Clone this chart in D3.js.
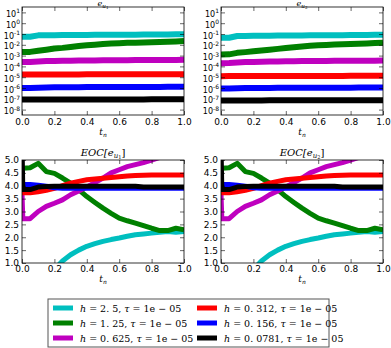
<!DOCTYPE html>
<html>
<head>
<meta charset="utf-8">
<script src="https://cdn.jsdelivr.net/npm/d3@7"></script>
<style>
  body { margin: 0; background: #fff; }
  svg { display: block; }
  .tick text { font-family: "DejaVu Sans", sans-serif; font-size: 9px; fill: #000; }
  .math { font-family: "DejaVu Serif", serif; fill: #000; }
</style>
</head>
<body>
<svg id="chart" width="391" height="348"></svg>
<script>
'use strict';

// time points of the error plots
var tErr = [0, 0.05, 0.1, 0.15, 0.2, 0.25, 0.3, 0.35, 0.4, 0.45, 0.5,
            0.55, 0.6, 0.65, 0.7, 0.75, 0.8, 0.85, 0.9, 0.95, 1.0];
// time points of the EOC plots
var tEoc = [0, 0.005, 0.05, 0.1, 0.15, 0.2, 0.25, 0.3, 0.35, 0.4, 0.45, 0.5,
            0.55, 0.6, 0.65, 0.7, 0.75, 0.8, 0.85, 0.9, 0.95, 1.0];

var hVals = ['2.5', '1.25', '0.625', '0.312', '0.156', '0.0781'];
var colors = ['#00bfbf', '#008000', '#bf00bf', '#ff0000', '#0000ff', '#000000'];

// e_u1
var eu1 = [
  [0.056,0.056,0.075,0.077,0.078,0.079,0.08,0.081,0.082,0.083,0.084,0.085,0.086,0.087,0.087,0.088,0.089,0.09,0.092,0.094,0.097],
  [0.0021,0.0022,0.0028,0.0035,0.0045,0.0052,0.0063,0.0076,0.0089,0.0102,0.0117,0.0129,0.0141,0.0151,0.0158,0.0166,0.0174,0.0182,0.019,0.0204,0.0224],
  [2.5e-4,2.6e-4,2.9e-4,3.1e-4,3.2e-4,3.3e-4,3.4e-4,3.5e-4,3.6e-4,3.6e-4,3.7e-4,3.7e-4,3.8e-4,3.8e-4,3.9e-4,3.9e-4,3.9e-4,4.0e-4,4.0e-4,4.0e-4,4.1e-4],
  [1.75e-5,1.76e-5,1.78e-5,1.8e-5,1.8e-5,1.81e-5,1.82e-5,1.82e-5,1.83e-5,1.83e-5,1.84e-5,1.84e-5,1.85e-5,1.85e-5,1.86e-5,1.86e-5,1.87e-5,1.87e-5,1.88e-5,1.88e-5,1.9e-5],
  [1.0e-6,1.02e-6,1.08e-6,1.12e-6,1.15e-6,1.17e-6,1.19e-6,1.2e-6,1.21e-6,1.22e-6,1.23e-6,1.24e-6,1.25e-6,1.25e-6,1.26e-6,1.26e-6,1.27e-6,1.27e-6,1.28e-6,1.28e-6,1.3e-6],
  [8.5e-8,8.5e-8,8.6e-8,8.6e-8,8.6e-8,8.7e-8,8.7e-8,8.7e-8,8.7e-8,8.7e-8,8.8e-8,8.8e-8,8.8e-8,8.8e-8,8.8e-8,8.8e-8,8.9e-8,8.9e-8,8.9e-8,8.9e-8,9.0e-8]
];

// e_u2
var eu2 = [
  [0.045,0.045,0.065,0.067,0.068,0.069,0.07,0.071,0.072,0.073,0.074,0.075,0.076,0.076,0.077,0.078,0.079,0.08,0.081,0.083,0.085],
  [0.00126,0.0013,0.0018,0.0021,0.0025,0.003,0.0035,0.0042,0.005,0.006,0.007,0.008,0.0089,0.0098,0.0107,0.0113,0.012,0.0127,0.0135,0.0145,0.0158],
  [2.0e-4,2.1e-4,2.3e-4,2.5e-4,2.6e-4,2.7e-4,2.8e-4,2.9e-4,3.0e-4,3.0e-4,3.1e-4,3.1e-4,3.2e-4,3.2e-4,3.3e-4,3.3e-4,3.3e-4,3.4e-4,3.4e-4,3.4e-4,3.5e-4],
  [1.25e-5,1.26e-5,1.27e-5,1.28e-5,1.28e-5,1.29e-5,1.29e-5,1.3e-5,1.3e-5,1.3e-5,1.31e-5,1.31e-5,1.31e-5,1.32e-5,1.32e-5,1.32e-5,1.33e-5,1.33e-5,1.33e-5,1.34e-5,1.35e-5],
  [0.88e-6,0.9e-6,0.95e-6,0.98e-6,1.0e-6,1.01e-6,1.02e-6,1.03e-6,1.04e-6,1.05e-6,1.05e-6,1.06e-6,1.06e-6,1.07e-6,1.07e-6,1.08e-6,1.08e-6,1.09e-6,1.09e-6,1.1e-6,1.1e-6],
  [7.0e-8,7.0e-8,7.1e-8,7.1e-8,7.1e-8,7.1e-8,7.2e-8,7.2e-8,7.2e-8,7.2e-8,7.2e-8,7.2e-8,7.3e-8,7.3e-8,7.3e-8,7.3e-8,7.3e-8,7.3e-8,7.4e-8,7.4e-8,7.4e-8]
];

// EOC (same look for u1 and u2)
var eoc = [
  [-1,-1,-0.3,0.1,0.45,0.75,1.08,1.32,1.5,1.65,1.75,1.84,1.91,1.97,2.04,2.1,2.13,2.16,2.19,2.22,2.19,2.22],
  [4.68,4.68,4.7,4.87,4.55,4.48,4.3,4.1,3.85,3.58,3.35,3.13,2.93,2.74,2.64,2.55,2.45,2.35,2.26,2.26,2.35,2.29],
  [3.7,2.72,2.72,3.0,3.2,3.32,3.45,3.65,3.8,3.95,4.12,4.3,4.5,4.62,4.74,4.82,4.9,5.0,5.1,5.2,5.3,5.4],
  [3.73,3.73,3.73,3.77,3.82,3.9,4.0,4.1,4.17,4.23,4.26,4.29,4.32,4.35,4.38,4.4,4.41,4.42,4.42,4.42,4.42,4.42],
  [4.05,4.05,4.05,4.02,3.98,3.92,3.9,3.9,3.9,3.9,3.9,3.9,3.9,3.9,3.9,3.9,3.9,3.9,3.9,3.9,3.9,3.9],
  [5.6,3.85,3.85,3.95,3.97,3.98,3.98,3.98,3.98,3.98,3.98,3.98,3.98,3.98,3.98,3.98,3.95,3.95,3.95,3.95,3.95,3.95]
];

var xTicks = [0, 0.2, 0.4, 0.6, 0.8, 1.0];
var logTicks = [1e-8, 1e-7, 1e-6, 1e-5, 1e-4, 1e-3, 1e-2, 1e-1, 1e0, 1e1];
var eocTicks = [1.0, 1.5, 2.0, 2.5, 3.0, 3.5, 4.0, 4.5, 5.0];

var svg = d3.select('#chart');

// math title like e_{u_1} or EOC[e_{u_1}]
function mathLabel(g, x, y, size, pre, sub, post) {
  var t = g.append('text').attr('class', 'math').attr('x', x).attr('y', y)
    .attr('text-anchor', 'middle').style('font-size', size + 'px').style('font-style', 'italic');
  if (pre) t.append('tspan').text(pre);
  t.append('tspan').text('e');
  t.append('tspan').attr('dy', 2).style('font-size', (size * 0.7) + 'px').text('u');
  t.append('tspan').attr('dy', 1.2).style('font-size', (size * 0.5) + 'px').style('font-style', 'normal').text(sub);
  if (post) t.append('tspan').attr('dy', -3.2).style('font-style', 'normal').text(post);
}

function tnLabel(g, x, y) {
  var t = g.append('text').attr('class', 'math').attr('x', x).attr('y', y)
    .attr('text-anchor', 'middle').style('font-size', '9px').style('font-style', 'italic');
  t.append('tspan').text('t');
  t.append('tspan').attr('dy', 2).style('font-size', '6px').text('n');
}

function panel(opts) {
  var g = svg.append('g').attr('transform', 'translate(' + opts.left + ',' + opts.top + ')');
  var w = opts.w, h = opts.h;
  var x = d3.scaleLinear().domain([0, 1]).range([0, w]);
  var y = opts.log
    ? d3.scaleLog().domain([Math.pow(10, -8.5), Math.pow(10, 1.5)]).range([h, 0])
    : d3.scaleLinear().domain([1, 5]).range([h, 0]);

  var clipId = 'clip' + opts.id;
  g.append('clipPath').attr('id', clipId).append('rect').attr('width', w).attr('height', h);

  var line = d3.line().x(function(d) { return x(d[0]); }).y(function(d) { return y(d[1]); });
  var lines = g.append('g').attr('clip-path', 'url(#' + clipId + ')');
  opts.series.forEach(function(s, i) {
    lines.append('path')
      .datum(opts.t.map(function(t, j) { return [t, s[j]]; }))
      .attr('d', line)
      .attr('fill', 'none')
      .attr('stroke', colors[i])
      .attr('stroke-width', opts.lw)
      .attr('stroke-linejoin', 'round');
  });

  // axes, ticks inward
  g.append('g').attr('transform', 'translate(0,' + h + ')')
    .call(d3.axisBottom(x).tickValues(xTicks).tickFormat(d3.format('.1f')).tickSizeInner(-4).tickSizeOuter(0).tickPadding(opts.log ? 4 : 3));
  g.append('g').call(d3.axisTop(x).tickValues(xTicks).tickSizeInner(-4).tickSizeOuter(0).tickFormat(''));

  var yTickVals = opts.log ? logTicks : eocTicks;
  var yl = g.append('g')
    .call(d3.axisLeft(y).tickValues(yTickVals).tickSizeInner(-4).tickSizeOuter(0).tickPadding(3)
      .tickFormat(opts.log ? function() { return ''; } : d3.format('.1f')));
  g.append('g').attr('transform', 'translate(' + w + ',0)')
    .call(d3.axisRight(y).tickValues(yTickVals).tickSizeInner(-4).tickSizeOuter(0).tickFormat(''));

  if (opts.log) {
    yl.selectAll('.tick').each(function(d) {
      var e = Math.round(Math.log10(d));
      var t = d3.select(this).select('text').attr('x', -2).attr('dy', '0.45em');
      t.append('tspan').style('font-size', '8px').text('10');
      t.append('tspan').attr('dy', -3.5).style('font-size', '6px').text(String(e));
    });
  }

  g.selectAll('.domain').remove();
  g.selectAll('.tick line').attr('stroke', '#000').attr('stroke-width', 0.6);
  g.append('rect').attr('width', w).attr('height', h)
    .attr('fill', 'none').attr('stroke', '#000').attr('stroke-width', 0.8);

  if (opts.log) {
    mathLabel(g, w / 2, -1.5, 8, '', opts.sub, '');
    tnLabel(g, w / 2, h + 20);
  } else {
    mathLabel(g, w / 2, -4, 10, 'EOC[', opts.sub, ']');
    tnLabel(g, w / 2, h + 19);
  }
}

panel({id: 1, left: 22, top: 7, w: 162, h: 108, log: true, series: eu1, t: tErr, sub: '1', lw: 6});
panel({id: 2, left: 221, top: 7, w: 162, h: 108, log: true, series: eu2, t: tErr, sub: '2', lw: 6});
panel({id: 3, left: 22, top: 160, w: 162, h: 103, log: false, series: eoc, t: tEoc, sub: '1', lw: 5});
panel({id: 4, left: 221, top: 160, w: 162, h: 103, log: false, series: eoc, t: tEoc, sub: '2', lw: 5});

// legend
var lg = svg.append('g').attr('transform', 'translate(48,299)');
lg.append('rect').attr('width', 281).attr('height', 48)
  .attr('fill', '#fff').attr('stroke', '#555').attr('stroke-width', 1);
hVals.forEach(function(hv, i) {
  var col = Math.floor(i / 3), row = i % 3;
  var gx = 5 + col * 144, gy = 9 + row * 15;
  lg.append('line').attr('x1', gx).attr('x2', gx + 20).attr('y1', gy).attr('y2', gy)
    .attr('stroke', colors[i]).attr('stroke-width', 5);
  var t = lg.append('text').attr('class', 'math').attr('x', gx + 27).attr('y', gy + 3.5)
    .style('font-size', '9.5px');
  t.append('tspan').style('font-style', 'italic').text('h');
  t.append('tspan').text(' = ' + hv.replace('.', '. ') + ', ');
  t.append('tspan').style('font-style', 'italic').text('\u03c4');
  t.append('tspan').text(' = 1e \u2212 05');
});
</script>
</body>
</html>
